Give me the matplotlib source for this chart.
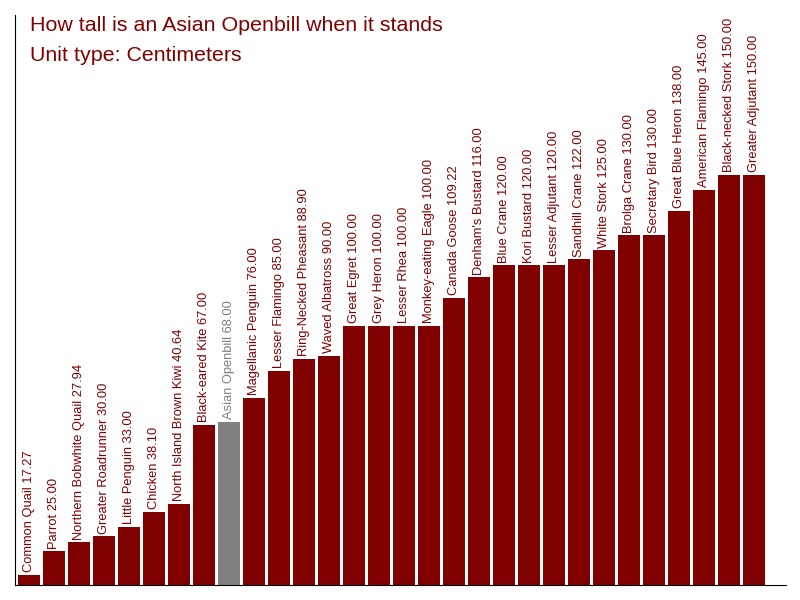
import matplotlib.pyplot as plt
import numpy as np

plt.rcParams['font.family'] = ['Liberation Sans', 'DejaVu Sans']

birds = ["Common Quail", "Parrot", "Northern Bobwhite Quail", "Greater Roadrunner",
         "Little Penguin", "Chicken", "North Island Brown Kiwi", "Black-eared Kite",
         "Asian Openbill", "Magellanic Penguin", "Lesser Flamingo", "Ring-Necked Pheasant",
         "Waved Albatross", "Great Egret", "Grey Heron", "Lesser Rhea",
         "Monkey-eating Eagle", "Canada Goose", "Denham's Bustard", "Blue Crane",
         "Kori Bustard", "Lesser Adjutant", "Sandhill Crane", "White Stork",
         "Brolga Crane", "Secretary Bird", "Great Blue Heron", "American Flamingo",
         "Black-necked Stork", "Greater Adjutant"]
heights = [17.27, 25.00, 27.94, 30.00, 33.00, 38.10, 40.64, 67.00,
           68.00, 76.00, 85.00, 88.90, 90.00, 100.00, 100.00, 100.00,
           100.00, 109.22, 116.00, 120.00, 120.00, 120.00, 122.00, 125.00,
           130.00, 130.00, 138.00, 145.00, 150.00, 150.00]
highlight = "Asian Openbill"

red = '#800000'
grey = '#808080'

fig = plt.figure(figsize=(8, 6), dpi=100)
ax = fig.add_axes([15 / 800, 15 / 600, 771 / 800, 570 / 600])

x = np.arange(len(birds))
colors = [grey if b == highlight else red for b in birds]
# axis does not start at zero: bottom sits a bit below the smallest bar
y0 = min(heights) * 0.8
ax.bar(x, np.array(heights) - y0, bottom=y0, width=0.88, color=colors)

for xi, b, h, col in zip(x, birds, heights, colors):
    ax.annotate(f'{b} {h:.2f}', (xi, h), xytext=(0, 2), textcoords='offset points',
                rotation=90, ha='center', va='bottom', fontsize=9.3, color=col)

ax.set_xlim(-0.56, 30.28)
ax.set_ylim(y0, 203.2)

for s in ['top', 'right']:
    ax.spines[s].set_visible(False)
ax.set_xticks([])
ax.set_yticks([])

ax.text(0.0195, 0.999, 'How tall is an Asian Openbill when it stands', transform=ax.transAxes,
        ha='left', va='top', fontsize=15.4, color=red)
ax.text(0.0195, 0.946, 'Unit type: Centimeters', transform=ax.transAxes,
        ha='left', va='top', fontsize=15.4, color=red)

fig.savefig('out.png', dpi=100)
